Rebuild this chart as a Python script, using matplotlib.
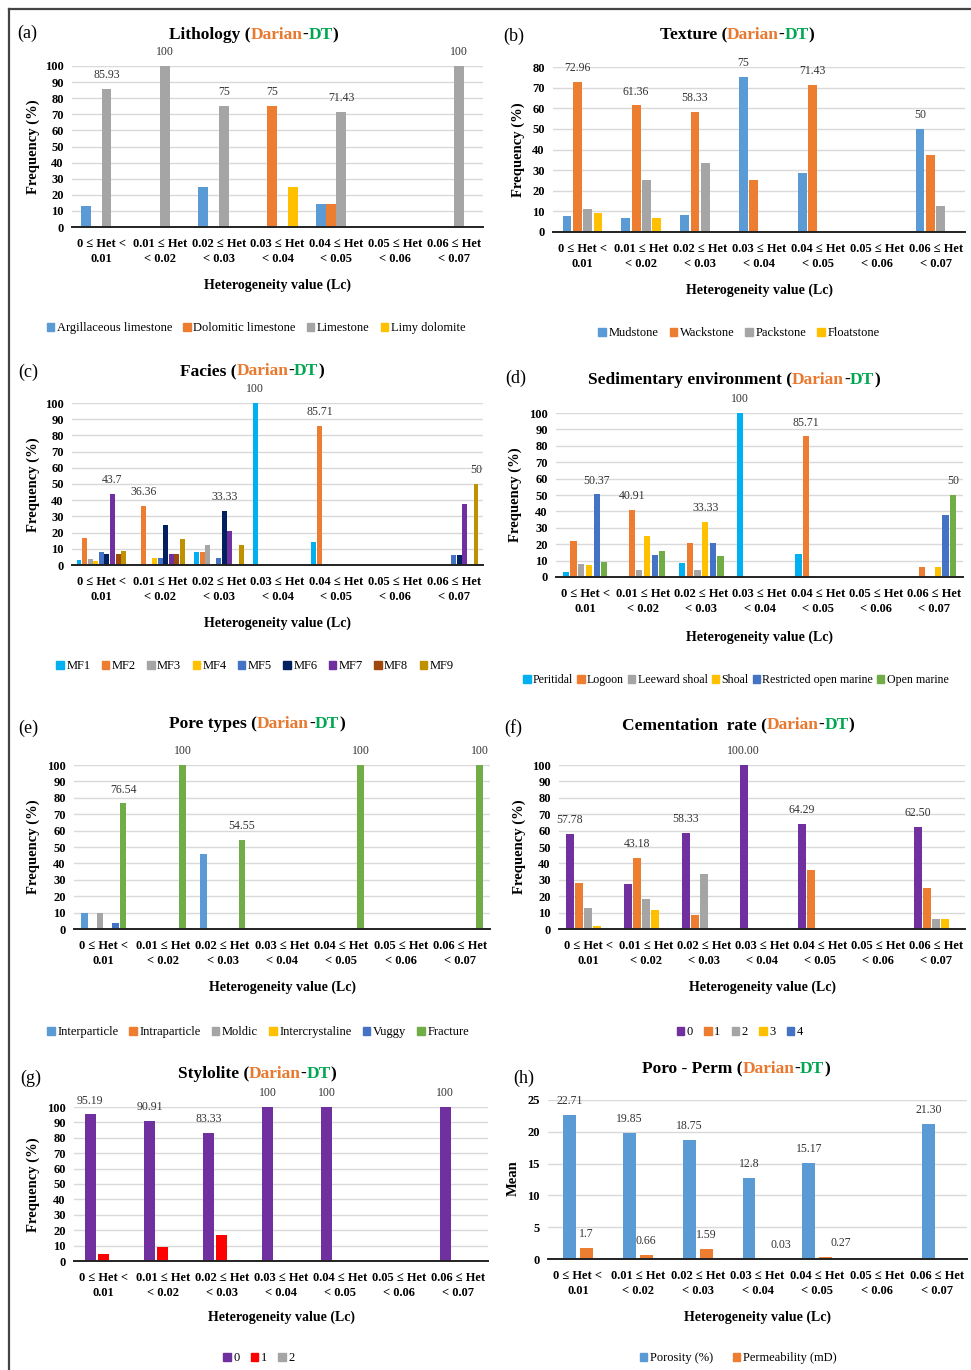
import matplotlib
matplotlib.use('Agg')
import matplotlib.pyplot as plt
from matplotlib.offsetbox import TextArea, HPacker, AnnotationBbox
from matplotlib.patches import Patch
from matplotlib.lines import Line2D

FONT = ['Liberation Serif', 'DejaVu Serif']
plt.rcParams['font.family'] = FONT

W, H = 971, 1370

# ---------------- data ----------------
categories = ['0 ≤ Het <\n0.01', '0.01 ≤ Het\n< 0.02', '0.02 ≤ Het\n< 0.03', '0.03 ≤ Het\n< 0.04',
              '0.04 ≤ Het\n< 0.05', '0.05 ≤ Het\n< 0.06', '0.06 ≤ Het\n< 0.07']

# (a) Lithology
lith_names = ['Argillaceous limestone', 'Dolomitic limestone', 'Limestone', 'Limy dolomite']
lith_argillaceous = [13.3, 0, 25, 0, 14.29, 0, 0]
lith_dolomitic = [0, 0, 0, 75, 14.29, 0, 0]
lith_limestone = [85.93, 100, 75, 0, 71.43, 0, 100]
lith_limy = [0, 0, 0, 25, 0, 0, 0]
lith_labels = ['85.93', '100', '75', '75', '71.43', '', '100']

# (b) Texture
tex_names = ['Mudstone', 'Wackstone', 'Packstone', 'Floatstone']
tex_mudstone = [7.8, 6.9, 8.33, 75, 28.57, 0, 50]
tex_wackstone = [72.96, 61.36, 58.33, 25, 71.43, 0, 37.5]
tex_packstone = [11.1, 25, 33.33, 0, 0, 0, 12.5]
tex_floatstone = [9.0, 6.9, 0, 0, 0, 0, 0]
tex_labels = ['72.96', '61.36', '58.33', '75', '71.43', '', '50']

# (c) Facies
fac_names = ['MF1', 'MF2', 'MF3', 'MF4', 'MF5', 'MF6', 'MF7', 'MF8', 'MF9']
fac_mf1 = [2.96, 0, 8.33, 100, 14.29, 0, 0]
fac_mf2 = [16.9, 36.36, 8.33, 0, 85.71, 0, 0]
fac_mf3 = [3.7, 0, 12.5, 0, 0, 0, 0]
fac_mf4 = [2.22, 4.55, 0, 0, 0, 0, 0]
fac_mf5 = [8.15, 4.55, 4.17, 0, 0, 0, 6.25]
fac_mf6 = [6.67, 25, 33.33, 0, 0, 0, 6.25]
fac_mf7 = [43.7, 6.82, 20.83, 0, 0, 0, 37.5]
fac_mf8 = [6.67, 6.82, 0, 0, 0, 0, 0]
fac_mf9 = [8.89, 15.91, 12.5, 0, 0, 0, 50]
fac_labels = ['43.7', '36.36', '33.33', '100', '85.71', '', '50']

# (d) Sedimentary environment
env_names = ['Peritidal', 'Logoon', 'Leeward shoal', 'Shoal', 'Restricted open marine', 'Open marine']
env_peritidal = [2.96, 0, 8.33, 100, 14.29, 0, 0]
env_logoon = [22.2, 40.91, 20.83, 0, 85.71, 0, 6.25]
env_leeward = [8.15, 4.55, 4.17, 0, 0, 0, 0]
env_shoal = [7.4, 25, 33.33, 0, 0, 0, 6.25]
env_restricted = [50.37, 13.64, 20.83, 0, 0, 0, 37.5]
env_open = [8.9, 15.91, 12.5, 0, 0, 0, 50]
env_labels = ['50.37', '40.91', '33.33', '100', '85.71', '', '50']

# (e) Pore types
pore_names = ['Interparticle', 'Intraparticle', 'Moldic', 'Intercrystaline', 'Vuggy', 'Fracture']
pore_interparticle = [9.88, 0, 45.45, 0, 0, 0, 0]
pore_intraparticle = [0, 0, 0, 0, 0, 0, 0]
pore_moldic = [9.88, 0, 0, 0, 0, 0, 0]
pore_intercrystaline = [0, 0, 0, 0, 0, 0, 0]
pore_vuggy = [3.7, 0, 0, 0, 0, 0, 0]
pore_fracture = [76.54, 100, 54.55, 0, 100, 0, 100]
pore_labels = ['76.54', '100', '54.55', '', '100', '', '100']

# (f) Cementation rate
cem_names = ['0', '1', '2', '3', '4']
cem_0 = [57.78, 27.27, 58.33, 100, 64.29, 0, 62.5]
cem_1 = [27.78, 43.18, 8.33, 0, 35.71, 0, 25]
cem_2 = [12.78, 18.18, 33.33, 0, 0, 0, 6.25]
cem_3 = [1.67, 11.36, 0, 0, 0, 0, 6.25]
cem_4 = [0, 0, 0, 0, 0, 0, 0]
cem_labels = ['57.78', '43.18', '58.33', '100.00', '64.29', '', '62.50']

# (g) Stylolite
sty_names = ['0', '1', '2']
sty_0 = [95.19, 90.91, 83.33, 100, 100, 0, 100]
sty_1 = [4.81, 9.09, 16.67, 0, 0, 0, 0]
sty_2 = [0, 0, 0, 0, 0, 0, 0]
sty_labels = ['95.19', '90.91', '83.33', '100', '100', '', '100']

# (h) Poro - Perm
pp_names = ['Porosity (%)', 'Permeability (mD)']
pp_porosity = [22.71, 19.85, 18.75, 12.8, 15.17, 0, 21.30]
pp_permeability = [1.7, 0.66, 1.59, 0.03, 0.27, 0, 0]
pp_por_labels = ['22.71', '19.85', '18.75', '12.8', '15.17', '', '21.30']
pp_perm_labels = ['1.7', '0.66', '1.59', '0.03', '0.27', '', '']

# ---------------- styling ----------------
BLUE = '#5B9BD5'
ORANGE = '#ED7D31'
GRAY = '#A5A5A5'
YELLOW = '#FFC000'
BLUE2 = '#4472C4'
GREEN = '#70AD47'
CYAN = '#00B0F0'
NAVY = '#002060'
PURPLE = '#7030A0'
BROWN = '#9E480E'
GOLD = '#BF9000'
RED = '#FF0000'

fig = plt.figure(figsize=(W / 100, H / 100), dpi=100)


def fx(x):
    return x / W


def fy(y):
    return 1 - y / H


# frame
fig.add_artist(Line2D([fx(9), fx(9)], [0, fy(9)], transform=fig.transFigure, color='#444444', lw=1.6))
fig.add_artist(Line2D([fx(9), 1], [fy(9), fy(9)], transform=fig.transFigure, color='#444444', lw=1.6))


def colored_title(cx, cy, prefix):
    parts = [(prefix + ' (', 'black'), ('Darian', '#E8792F'), ('-', 'black'), ('DT', '#00A651'), (')', 'black')]
    boxes = [TextArea(t, textprops=dict(color=c, fontsize=12.5, fontweight='bold', family=FONT)) for t, c in parts]
    pack = HPacker(children=boxes, align='baseline', pad=0, sep=0)
    ab = AnnotationBbox(pack, (fx(cx), fy(cy)), xycoords='figure fraction', frameon=False,
                        box_alignment=(0.5, 0.5), pad=0)
    fig.add_artist(ab)


def panel(box, series, names, colors, slot, bfrac, ylim, yticks, title, tpos, letter, lpos,
          ylab, ylpos, legpos, labels=None, ylabel='Frequency (%)', legfs=9, legcs=0.9):
    l, t, r, b = box
    ax = fig.add_axes([fx(l), fy(b), (r - l) / W, (b - t) / H])
    n = len(series)
    for i, (vals, col) in enumerate(zip(series, colors)):
        xs = [g + (i - (n - 1) / 2) * slot for g in range(len(vals))]
        ax.bar(xs, vals, width=slot * bfrac, color=col, zorder=3)
    if labels is not None:
        for g, txt in enumerate(labels):
            if not txt:
                continue
            vals_g = [s[g] for s in series]
            i = max(range(n), key=lambda k: vals_g[k])
            x = g + (i - (n - 1) / 2) * slot
            ax.annotate(txt, (x, vals_g[i]), xytext=(0, 10), textcoords='offset points',
                        ha='center', va='center', fontsize=8.5, color='#333333', annotation_clip=False)
    ax.set_xlim(-0.5, len(categories) - 0.5)
    ax.set_ylim(*ylim)
    ax.set_yticks(yticks)
    ax.set_yticklabels([str(v) for v in yticks], fontweight='bold', fontsize=9)
    ax.set_xticks(range(len(categories)))
    ax.set_xticklabels(categories, fontweight='bold', fontsize=9, linespacing=1.35)
    ax.tick_params(axis='both', length=0)
    ax.tick_params(axis='x', pad=8)
    ax.tick_params(axis='y', pad=6)
    for s in ['top', 'right', 'left']:
        ax.spines[s].set_visible(False)
    ax.spines['bottom'].set_color('#222222')
    ax.spines['bottom'].set_linewidth(1.4)
    ax.spines['bottom'].set_zorder(4)
    ax.yaxis.grid(True, color='#D9D9D9', lw=1.0, zorder=0)
    ax.set_axisbelow(True)

    colored_title(tpos[0], tpos[1], title)
    fig.text(fx(lpos[0]), fy(lpos[1]), letter, fontsize=13, ha='left', va='center')
    fig.text(fx(ylpos[0]), fy(ylpos[1]), ylabel, fontsize=10.5, fontweight='bold', rotation=90,
             ha='center', va='center')
    fig.text(fx((l + r) / 2), fy(ylab), 'Heterogeneity value (Lc)', fontsize=10, fontweight='bold',
             ha='center', va='center')
    handles = [Patch(color=c, label=nm) for nm, c in zip(names, colors)]
    fig.legend(handles=handles, loc='center', bbox_to_anchor=(fx(legpos[0]), fy(legpos[1])),
               ncol=len(names), frameon=False, fontsize=legfs, handlelength=0.6, handleheight=0.6,
               handletextpad=0.2, columnspacing=legcs, borderpad=0, borderaxespad=0)
    return ax


# (a)
panel((72, 66, 483, 227), [lith_argillaceous, lith_dolomitic, lith_limestone, lith_limy], lith_names,
      [BLUE, ORANGE, GRAY, YELLOW], 0.175, 0.97, (0, 100), list(range(0, 101, 10)),
      'Lithology', (254, 35), '(a)', (17, 33), 285, (33, 147), (256, 328), lith_labels)

# (b)
panel((553, 67, 965, 232), [tex_mudstone, tex_wackstone, tex_packstone, tex_floatstone], tex_names,
      [BLUE, ORANGE, GRAY, YELLOW], 0.175, 0.85, (0, 80), list(range(0, 81, 10)),
      'Texture', (737, 35), '(b)', (503, 36), 290, (518, 150), (739, 333), tex_labels)

# (c)
panel((72, 403, 483, 565), [fac_mf1, fac_mf2, fac_mf3, fac_mf4, fac_mf5, fac_mf6, fac_mf7, fac_mf8, fac_mf9],
      fac_names, [CYAN, ORANGE, GRAY, YELLOW, BLUE2, NAVY, PURPLE, BROWN, GOLD], 0.095, 0.88,
      (0, 100), list(range(0, 101, 10)),
      'Facies', (252, 371), '(c)', (18, 372), 623, (33, 485), (255, 666), fac_labels)

# (d)
panel((556, 413, 963, 577), [env_peritidal, env_logoon, env_leeward, env_shoal, env_restricted, env_open],
      env_names, [CYAN, ORANGE, GRAY, YELLOW, BLUE2, GREEN], 0.132, 0.8,
      (0, 100), list(range(0, 101, 10)),
      'Sedimentary environment', (734, 380), '(d)', (505, 378), 637, (515, 495), (736, 680), env_labels,
      legfs=8.6, legcs=0.35)

# (e)
panel((74, 765, 490, 929), [pore_interparticle, pore_intraparticle, pore_moldic, pore_intercrystaline,
                            pore_vuggy, pore_fracture],
      pore_names, [BLUE, ORANGE, GRAY, YELLOW, BLUE2, GREEN], 0.13, 0.85,
      (0, 100), list(range(0, 101, 10)),
      'Pore types', (257, 724), '(e)', (18, 728), 987, (33, 847), (258, 1032), pore_labels)

# (f)
panel((559, 765, 965, 929), [cem_0, cem_1, cem_2, cem_3, cem_4], cem_names,
      [PURPLE, ORANGE, GRAY, YELLOW, BLUE2], 0.158, 0.84, (0, 100), list(range(0, 101, 10)),
      'Cementation  rate', (738, 725), '(f)', (504, 728), 987, (519, 847), (740, 1032), cem_labels)

# (g)
panel((74, 1107, 488, 1261), [sty_0, sty_1, sty_2], sty_names, [PURPLE, RED, GRAY], 0.225, 0.83,
      (0, 100), list(range(0, 101, 10)),
      'Stylolite', (257, 1074), '(g)', (20, 1078), 1317, (33, 1185), (259, 1358), sty_labels)

# (h)
axh = panel((548, 1100, 967, 1259), [pp_porosity, pp_permeability], pp_names, [BLUE, ORANGE], 0.284, 0.76,
            (0, 25), list(range(0, 26, 5)),
            'Poro - Perm', (736, 1069), '(h)', (513, 1078), 1317, (513, 1178), (738, 1358), None,
            ylabel='Mean', legcs=1.6)
perm_label_dx = [0, 0, 0, 11, 11, 0, 0]
for g in range(len(categories)):
    if pp_por_labels[g]:
        axh.annotate(pp_por_labels[g], (g - 0.142, pp_porosity[g]), xytext=(0, 10), textcoords='offset points',
                     ha='center', va='center', fontsize=8.5, color='#333333', annotation_clip=False)
    if pp_perm_labels[g]:
        axh.annotate(pp_perm_labels[g], (g + 0.142, pp_permeability[g]), xytext=(perm_label_dx[g], 10),
                     textcoords='offset points', ha='center', va='center', fontsize=8.5, color='#333333',
                     annotation_clip=False)

fig.savefig('out.png', dpi=100)
